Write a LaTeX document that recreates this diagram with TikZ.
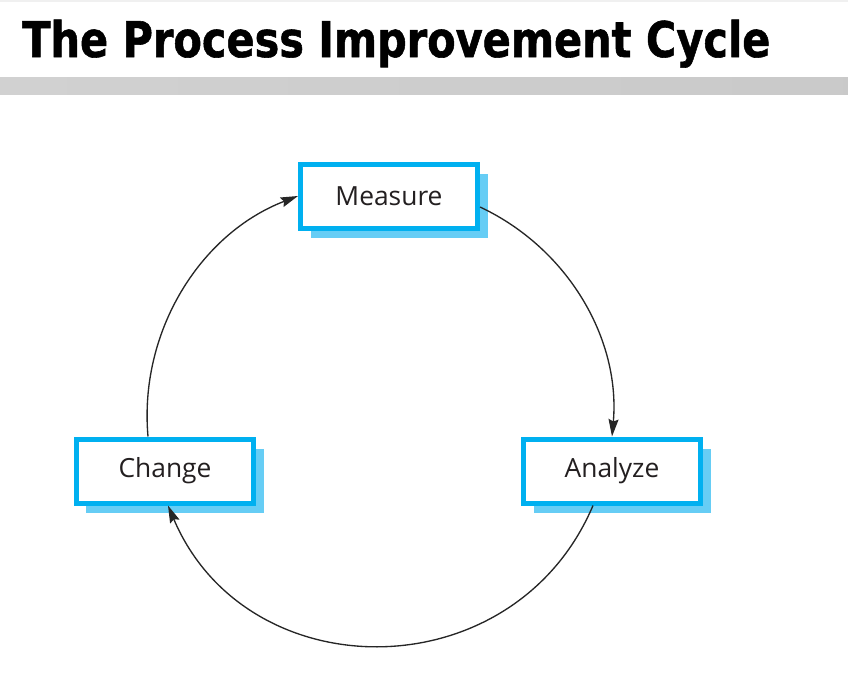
\documentclass[tikz,border=0pt]{standalone}
\usepackage{fontspec}
\setmainfont{Open Sans}
\newfontfamily\titlefont[BoldFeatures={FakeBold=1.2}]{DejaVu Sans}
\usetikzlibrary{arrows.meta,calc,shadows}

\definecolor{boxblue}{HTML}{00B0F0}
\definecolor{shadeblue}{HTML}{66CDF5}
\definecolor{labelink}{HTML}{231F20}

\begin{document}
\begin{tikzpicture}[x=0.03cm, y=0.03cm,
  stepbox/.style={draw=boxblue, line width=0.15cm, fill=white, minimum width=5.31cm, minimum height=1.92cm,
    text=labelink, font=\fontsize{22.5pt}{26pt}\selectfont,
    drop shadow={shadow xshift=0.3cm, shadow yshift=-0.3cm, fill=shadeblue, opacity=1}},
  arr/.style={-{Stealth[length=0.52cm, width=0.3cm, inset=0.07cm]}, line width=0.04cm, draw=black!85},
]
\useasboundingbox[fill=white] (0,0) rectangle (848,-690);

% title band
\fill[black!6] (0,0) rectangle (848,-2);
\shade[left color=black!18, middle color=black!13, right color=black!21] (0,-77) rectangle (848,-94);
\node[anchor=base west, inner sep=0pt] (title) at (22,-57)
  {\resizebox{22.44cm}{1.12cm}{\titlefont\bfseries The Process Improvement Cycle}};

% the three stages
\node[stepbox] (measure) at (389,-196) {Measure};
\node[stepbox] (analyze) at (612,-471) {Analyze};
\node[stepbox] (change) at (165,-471) {Change};

% the cycle
\draw[arr] ($(measure.east)+(0,-11)$) to[bend left=35, looseness=0.94] (analyze.north);
\draw[arr] ($(analyze.south)+(-19,0)$) to[bend left=67, looseness=1.22] ($(change.south)+(3,0)$);
\draw[arr] ($(change.north)+(-17,0)$) to[bend left=37, looseness=0.95] (measure.west);
\end{tikzpicture}
\end{document}
